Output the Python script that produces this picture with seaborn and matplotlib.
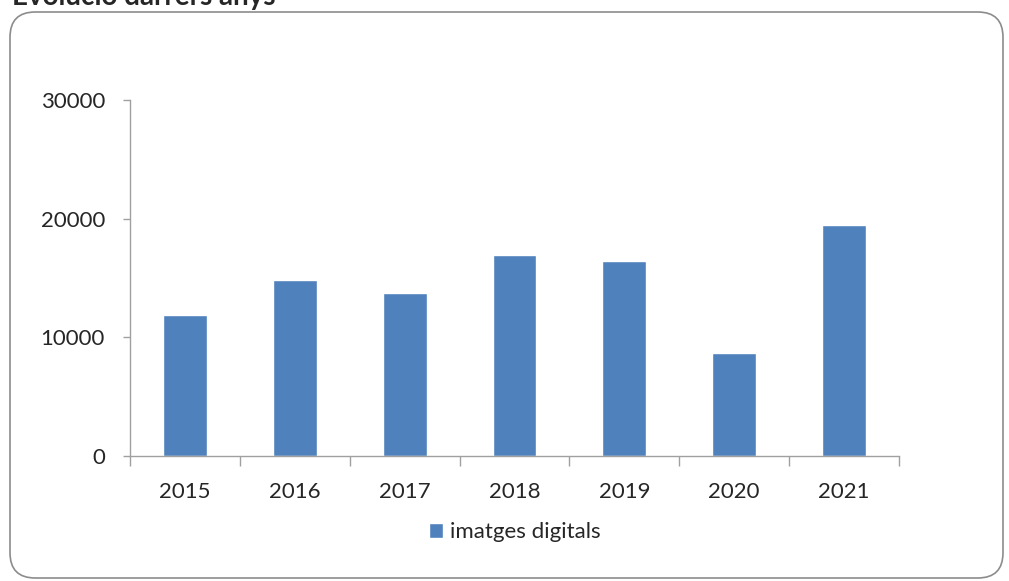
import numpy as np
import pandas as pd
import matplotlib
matplotlib.use("Agg")
import matplotlib.pyplot as plt
from matplotlib.patches import FancyBboxPatch
import seaborn as sns

years = ["2015", "2016", "2017", "2018", "2019", "2020", "2021"]
imatges = [11850, 14800, 13700, 16930, 16450, 8650, 19450]
series_name = "imatges digitals"

sns.set_style("white")
plt.rcParams["font.family"] = ["Lato", "DejaVu Sans"]

df = pd.DataFrame({"any": years, "valor": imatges, "serie": series_name})

W, H = 1009, 581
fig = plt.figure(figsize=(W / 100, H / 100), dpi=100)

# rounded frame round the chart area
frame = FancyBboxPatch((10 / W, 3 / H), 993 / W, 566 / H,
                       boxstyle="round,pad=0,rounding_size=0.025",
                       transform=fig.transFigure, facecolor="white",
                       edgecolor="#8c8c8c", linewidth=1.2, mutation_aspect=W / H,
                       zorder=-5)
fig.patches.append(frame)

ax = fig.add_axes([130 / W, 1 - 456 / H, 769 / W, 356 / H])
ax.patch.set_alpha(0)
sns.barplot(data=df, x="any", y="valor", hue="serie", palette=["#4f81bd"],
            width=0.4, ax=ax, saturation=1)

ax.set_ylim(0, 30000)
ax.set_yticks([0, 10000, 20000, 30000])
ax.set_xlim(-0.5, len(years) - 0.5)
ax.set_xlabel("")
ax.set_ylabel("")
ax.set_xticks(np.arange(-0.5, len(years), 1), minor=True)
ax.tick_params(bottom=True, left=True, which="both")
ax.tick_params(axis="x", which="major", length=0, labelsize=16, pad=19)
ax.tick_params(axis="x", which="minor", length=7, color="#a0a0a0", width=1)
ax.tick_params(axis="y", length=5, color="#a0a0a0", width=1, labelsize=16, pad=13)
for side in ["top", "right"]:
    ax.spines[side].set_visible(False)
for side in ["left", "bottom"]:
    ax.spines[side].set_color("#a0a0a0")
    ax.spines[side].set_linewidth(1)

leg = ax.legend(loc="center", bbox_to_anchor=(0.5, -0.214), frameon=False,
                fontsize=16, handlelength=0.65, handleheight=0.65, handletextpad=0.3)

fig.text(12 / W, 1 - 5 / H, "Evolució darrers anys", fontsize=20, fontweight="bold",
         ha="left", va="baseline")

fig.savefig("out.png", dpi=100)
